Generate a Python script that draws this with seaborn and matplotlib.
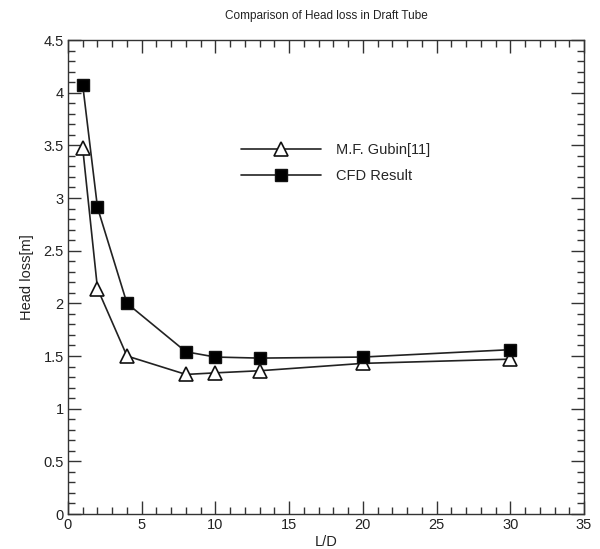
import matplotlib
matplotlib.use("Agg")
import matplotlib.pyplot as plt
from matplotlib.ticker import MultipleLocator
import seaborn as sns
import pandas as pd

# Data
ld = [1, 2, 4, 8, 10, 13, 20, 30]
gubin = [3.47, 2.14, 1.50, 1.325, 1.34, 1.36, 1.43, 1.47]
cfd = [4.07, 2.91, 2.00, 1.54, 1.49, 1.48, 1.49, 1.56]
series_names = ["M.F. Gubin[11]", "CFD Result"]

sns.set_style("ticks")
plt.rcParams["font.family"] = ["Liberation Sans", "DejaVu Sans"]

fig = plt.figure(figsize=(6.0, 5.49), dpi=100)
ax = fig.add_axes([68/600, 1-514/549, (584-68)/600, (514-40)/549])

df_g = pd.DataFrame({"L/D": ld, "Head loss[m]": gubin})
df_c = pd.DataFrame({"L/D": ld, "Head loss[m]": cfd})

sns.lineplot(data=df_g, x="L/D", y="Head loss[m]", ax=ax, color="#222222",
             linewidth=1.2, marker="^", markersize=10, markerfacecolor="white",
             markeredgecolor="#111111", markeredgewidth=1.2, label=series_names[0])
sns.lineplot(data=df_c, x="L/D", y="Head loss[m]", ax=ax, color="#222222",
             linewidth=1.2, marker="s", markersize=9, markerfacecolor="black",
             markeredgecolor="#111111", markeredgewidth=1.0, label=series_names[1])

ax.set_xlim(0, 35)
ax.set_ylim(0, 4.5)
ax.xaxis.set_major_locator(MultipleLocator(5))
ax.xaxis.set_minor_locator(MultipleLocator(1))
ax.yaxis.set_major_locator(MultipleLocator(0.5))
ax.yaxis.set_minor_locator(MultipleLocator(0.1))
ax.set_yticks([0, 0.5, 1, 1.5, 2, 2.5, 3, 3.5, 4, 4.5])
ax.set_yticklabels(["0", "0.5", "1", "1.5", "2", "2.5", "3", "3.5", "4", "4.5"])

ax.tick_params(which="both", direction="in", top=True, right=True,
               colors="#333333", labelcolor="#222222", width=1.0)
ax.tick_params(which="major", length=9.5, labelsize=10.5, pad=3)
ax.tick_params(which="minor", length=4.8)
for s in ax.spines.values():
    s.set_visible(True)
    s.set_color("#333333")
    s.set_linewidth(1.0)

ax.set_xlabel("L/D", fontsize=10.5, color="#222222", labelpad=2)
ax.set_ylabel("Head loss[m]", fontsize=10.5, color="#222222", labelpad=7)
ax.set_title("Comparison of Head loss in Draft Tube", fontsize=8.5,
             color="#222222", pad=15)

leg = ax.legend(loc="upper left", bbox_to_anchor=(0.31, 0.81), frameon=False,
                fontsize=10.5, handlelength=5.5, labelspacing=0.8,
                handletextpad=1.0)

fig.savefig("out.png", dpi=100)
